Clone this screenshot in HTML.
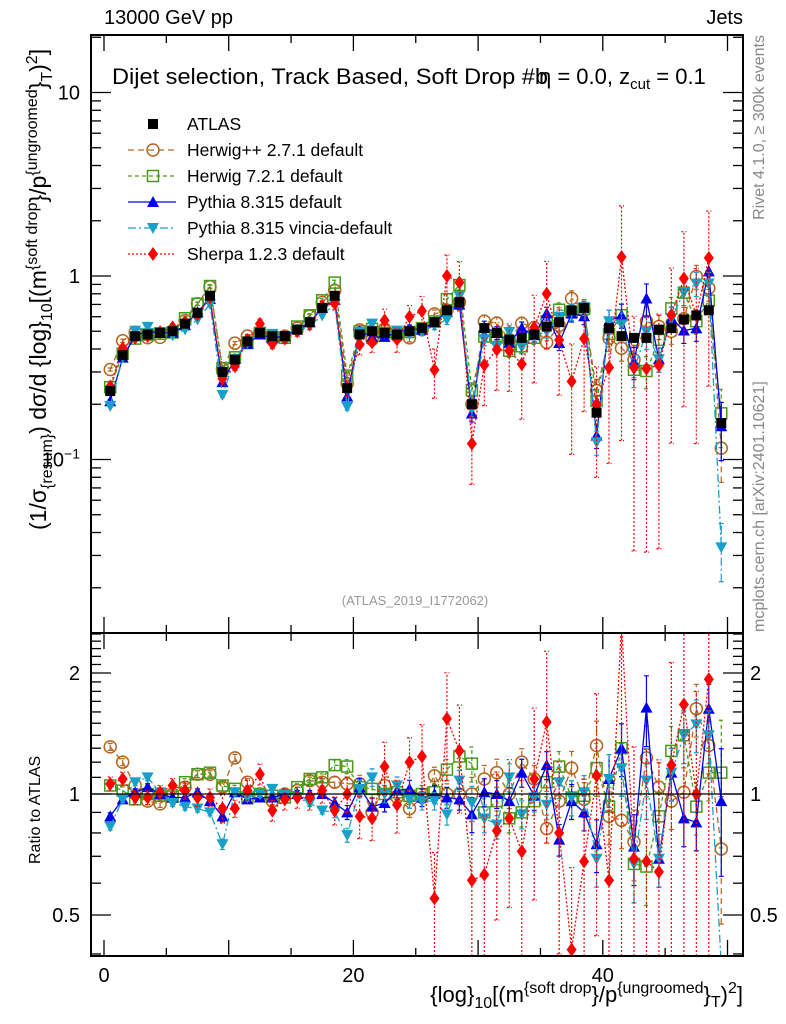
<!DOCTYPE html>
<html><head><meta charset="utf-8">
<style>
html,body{margin:0;padding:0;background:#fff;overflow:hidden;width:786px;height:1024px;}
svg{display:block;font-family:"Liberation Sans",sans-serif;}
</style></head>
<body>
<svg id="chart" width="786" height="1024" viewBox="0 0 786 1024" xmlns="http://www.w3.org/2000/svg">
<defs>
<clipPath id="clipMain"><rect x="91" y="35" width="652" height="598"/></clipPath>
<clipPath id="clipRatio"><rect x="91" y="633" width="652" height="323"/></clipPath>
</defs>
<rect x="0" y="0" width="786" height="1024" fill="#fff"/>
<g id="mainMarks" clip-path="url(#clipMain)"></g>
<g id="ratioMarks" clip-path="url(#clipRatio)"></g>
<g id="axes"></g>
<text x="104" y="24" font-size="20">13000 GeV pp</text>
<text x="743" y="24" font-size="20" text-anchor="end">Jets</text>
<text x="112" y="84" font-size="22" textLength="436" lengthAdjust="spacingAndGlyphs">Dijet selection, Track Based, Soft Drop #b</text>
<text x="539" y="84" font-size="22">η = 0.0, z<tspan font-size="15" dy="5">cut</tspan><tspan dy="-5"> = 0.1</tspan></text>
<text x="415" y="605" font-size="13" fill="#999" text-anchor="middle">(ATLAS_2019_I1772062)</text>
<text transform="translate(764,35) rotate(-90)" font-size="16" fill="#888" text-anchor="end">Rivet 4.1.0, ≥ 300k events</text>
<text transform="translate(764,632) rotate(-90)" font-size="16" fill="#888">mcplots.cern.ch [arXiv:2401.10621]</text>
<text transform="translate(46,530) rotate(-90)" font-size="23">(1/σ<tspan font-size="16" dy="6">{resum}</tspan><tspan dy="-6">) dσ/d {log}</tspan><tspan font-size="16" dy="6">10</tspan><tspan dy="-6">[(m</tspan><tspan font-size="16" dy="-9">{soft drop</tspan><tspan dy="9">}/p</tspan><tspan font-size="16" dy="-9">{ungroomed</tspan><tspan dy="9">}</tspan><tspan font-size="16" dy="6">T</tspan><tspan dy="-6">)</tspan><tspan font-size="16" dy="-9">2</tspan><tspan dy="9">]</tspan></text>
<text transform="translate(40,864) rotate(-90)" font-size="16">Ratio to ATLAS</text>
<text x="743" y="1002" font-size="22" text-anchor="end">{log}<tspan font-size="16" dy="6">10</tspan><tspan dy="-6">[(m</tspan><tspan font-size="16" dy="-9">{soft drop</tspan><tspan dy="9">}/p</tspan><tspan font-size="16" dy="-9">{ungroomed</tspan><tspan dy="9">}</tspan><tspan font-size="16" dy="5">T</tspan><tspan dy="-5">)</tspan><tspan font-size="16" dy="-9">2</tspan><tspan dy="9">]</tspan></text>
<g id="legend"></g>
</svg>
<script>
const NS="http://www.w3.org/2000/svg";
const binCenters=[];for(let i=0;i<50;i++)binCenters.push(i+0.5);
const atlasValues=[0.236,0.37,0.47,0.48,0.49,0.50,0.55,0.63,0.78,0.30,0.35,0.44,0.49,0.47,0.47,0.51,0.56,0.67,0.78,0.245,0.48,0.50,0.49,0.48,0.50,0.52,0.56,0.65,0.72,0.20,0.52,0.49,0.45,0.46,0.48,0.53,0.56,0.65,0.67,0.18,0.52,0.47,0.46,0.46,0.51,0.52,0.58,0.61,0.65,0.158];
const atlasErr=[0.02,0.02,0.02,0.02,0.02,0.02,0.02,0.02,0.02,0.02,0.02,0.02,0.02,0.02,0.02,0.02,0.02,0.02,0.02,0.02,0.03,0.03,0.03,0.03,0.03,0.03,0.03,0.03,0.03,0.03,0.04,0.04,0.04,0.04,0.04,0.04,0.04,0.04,0.04,0.04,0.05,0.05,0.05,0.05,0.05,0.05,0.05,0.05,0.05,0.05];
const herwigppRatio=[1.31,1.2,1.05,0.96,0.945,1.0,1.04,1.12,1.12,1.04,1.23,1.07,1.0,0.96,1.0,1.02,1.08,1.07,1.07,1.06,1.06,0.9,1.05,0.98,0.92,0.98,1.11,1.0,1.0,1.0,1.09,1.13,1.0,1.2,1.09,0.82,0.96,1.16,0.97,1.32,0.88,0.86,0.76,1.23,1.04,0.96,1.01,1.63,1.32,0.73];
const herwig7Ratio=[1.05,1.02,0.97,1.0,0.99,0.985,1.07,1.12,1.13,1.05,1.03,0.98,1.0,0.99,0.98,1.04,1.09,1.1,1.18,1.17,1.04,1.03,1.0,1.01,0.99,1.0,1.01,1.15,1.24,1.19,0.9,0.96,0.87,0.9,0.96,1.07,1.17,0.98,0.99,1.16,0.93,1.3,0.67,0.66,0.88,1.28,1.4,0.93,1.13,1.13];
const pythiaRatio=[0.88,0.97,1.01,1.04,1.0,0.98,0.98,1.01,0.96,0.88,1.01,0.97,0.98,0.98,1.0,1.0,1.0,1.0,0.95,0.9,1.04,0.93,0.95,1.02,1.03,0.98,1.0,0.98,0.97,0.89,1.01,1.0,0.96,1.13,0.99,1.18,0.77,0.96,0.9,0.75,1.09,1.3,0.74,1.64,0.69,1.13,0.87,0.85,1.63,0.96];
const vinciaRatio=[0.83,0.97,1.07,1.1,1.01,0.95,0.93,0.92,0.9,0.75,1.01,0.98,1.0,1.03,1.0,0.98,0.95,0.91,0.9,0.79,1.03,1.1,1.0,1.05,0.97,0.96,0.96,0.89,1.08,0.95,0.87,0.84,1.1,0.89,0.98,0.94,1.07,0.98,1.01,0.69,1.09,1.16,0.67,1.08,0.69,1.13,1.4,1.49,1.4,0.21];
const sherpaRatio=[1.06,1.09,0.98,0.98,1.01,1.05,1.02,0.98,0.98,0.92,0.92,1.02,1.12,0.91,0.97,0.98,0.98,1.02,0.91,1.0,0.88,0.87,1.17,0.94,1.2,1.24,0.55,1.54,1.28,0.61,0.63,0.81,0.87,0.72,1.09,1.51,0.8,0.41,0.68,1.11,0.61,2.7,0.69,0.68,0.64,1.18,1.67,1.0,1.93,null];
const mcRelErr=[0.02,0.02,0.02,0.02,0.02,0.02,0.02,0.02,0.02,0.03,0.02,0.02,0.02,0.02,0.02,0.02,0.02,0.02,0.03,0.04,0.05,0.05,0.05,0.05,0.05,0.05,0.05,0.06,0.06,0.1,0.08,0.08,0.08,0.08,0.08,0.08,0.09,0.1,0.1,0.15,0.15,0.15,0.2,0.2,0.15,0.15,0.15,0.15,0.15,0.35];
const sherpaRelErr=[0.04,0.04,0.04,0.04,0.04,0.04,0.05,0.05,0.05,0.08,0.05,0.06,0.06,0.06,0.06,0.06,0.07,0.07,0.08,0.1,0.12,0.12,0.15,0.15,0.15,0.2,0.3,0.3,0.3,0.4,0.4,0.4,0.4,0.5,0.5,0.5,0.5,0.6,0.6,0.6,0.7,0.9,0.9,0.9,0.9,0.8,0.8,0.8,0.8,0.8];
const xTicks=[0,20,40];
const mainTicks=[10,1,0.1];
const ratioTicks=[2,1,0.5];

const X0=104,XS=12.47;
function xs(v){return X0+XS*v;}
function ym(v){return 276-183.5*Math.log10(v);}
function yr(v){return 794-402*Math.log10(v);}
function mk(tag,attrs,parent){const e=document.createElementNS(NS,tag);for(const k in attrs)e.setAttribute(k,attrs[k]);parent.appendChild(e);return e;}
function clamp(y,a,b){return Math.max(a,Math.min(b,y));}

const series=[
 {name:'herwigpp',ratio:herwigppRatio,err:mcRelErr,color:'#b5651d',dash:'6,4',marker:'circle',label:'Herwig++ 2.7.1 default'},
 {name:'herwig7',ratio:herwig7Ratio,err:mcRelErr,color:'#4a9a1a',dash:'4,3',marker:'square',label:'Herwig 7.2.1 default'},
 {name:'pythia',ratio:pythiaRatio,err:mcRelErr,color:'#0000ee',dash:'',marker:'tri',label:'Pythia 8.315 default'},
 {name:'vincia',ratio:vinciaRatio,err:mcRelErr,color:'#1aa0c8',dash:'8,3,2,3',marker:'tridown',label:'Pythia 8.315 vincia-default'},
 {name:'sherpa',ratio:sherpaRatio,err:sherpaRelErr,color:'#ff0000',dash:'2,2',marker:'diamond',label:'Sherpa 1.2.3 default'}
];

function marker(g,type,x,y,color){
 let e;
 if(type==='circle')e=mk('circle',{cx:x,cy:y,r:6,fill:'none',stroke:color,'stroke-width':1.5},g);
 else if(type==='square')e=mk('rect',{x:x-5.5,y:y-5.5,width:11,height:11,fill:'none',stroke:color,'stroke-width':1.5},g);
 else if(type==='fsquare')e=mk('rect',{x:x-5,y:y-5,width:10,height:10,fill:color},g);
 else if(type==='tri')e=mk('polygon',{points:`${x},${y-6} ${x-6},${y+5} ${x+6},${y+5}`,fill:color},g);
 else if(type==='tridown')e=mk('polygon',{points:`${x},${y+6} ${x-6},${y-5} ${x+6},${y-5}`,fill:color},g);
 else e=mk('polygon',{points:`${x},${y-7} ${x-5},${y} ${x},${y+7} ${x+5},${y}`,fill:color},g);
 return e;
}

function drawSeries(parent,s,yfn,vals,errs,top,bot){
 const g=mk('g',{},parent);
 
 
 let d='';let pen=false;
 vals.forEach((v,i)=>{if(v==null||v<=0){pen=false;return;}d+=(pen?'L':'M')+xs(binCenters[i]).toFixed(1)+','+clamp(yfn(v),top-10,bot+10).toFixed(1);pen=true;});
 const line=mk('path',{d:d,fill:'none',stroke:s.color,'stroke-width':1.3,'stroke-dasharray':s.dash},g);
 
 
 vals.forEach((v,i)=>{
  if(v==null||v<=0)return;
  const x=xs(binCenters[i]);const lo=Math.max(v*(1-errs[i]),1e-4),hi=v*(1+errs[i]);
  const yl=clamp(yfn(lo),top,bot),yh=clamp(yfn(hi),top,bot);
  mk('path',{d:`M${x},${yl}L${x},${yh}M${x-2.5},${yl}L${x+2.5},${yl}M${x-2.5},${yh}L${x+2.5},${yh}`,stroke:s.color,'stroke-width':1.2,'stroke-dasharray':s.dash,fill:'none'},g);
  const yv=yfn(v);
  if(yv<top||yv>bot)return;
  const m=marker(g,s.marker,x,yv,s.color);
  
  
 });
}

const mainG=document.getElementById('mainMarks'),ratioG=document.getElementById('ratioMarks');
series.forEach(s=>{
 const mv=atlasValues.map((a,i)=>s.ratio[i]==null?null:a*s.ratio[i]);
 drawSeries(mainG,s,ym,mv,s.err,35,633);
 drawSeries(ratioG,s,yr,s.ratio,s.err,633,956);
});
{
 const g=mk('g',{},mainG);
 
 
 atlasValues.forEach((v,i)=>{
  const x=xs(binCenters[i]);
  mk('path',{d:`M${x},${ym(v*(1-atlasErr[i]))}L${x},${ym(v*(1+atlasErr[i]))}`,stroke:'#000','stroke-width':1.2},g);
  const m=marker(g,'fsquare',x,ym(v),'#000');
  
  
 });
}
const refLine=mk('line',{x1:91,x2:743,y1:yr(1),y2:yr(1),stroke:'#000','stroke-width':1.3},ratioG);



const ax=document.getElementById('axes');
mk('rect',{x:91,y:35,width:652,height:598,fill:'none',stroke:'#000','stroke-width':2},ax);
mk('rect',{x:91,y:633,width:652,height:323,fill:'none',stroke:'#000','stroke-width':2},ax);
for(let v=0;v<=50;v+=5){
 const x=xs(v);const L=(v%10===0)?16:8;
 mk('line',{x1:x,x2:x,y1:633,y2:633-L,stroke:'#000','stroke-width':1.3},ax);
 mk('line',{x1:x,x2:x,y1:35,y2:35+L,stroke:'#000','stroke-width':1.3},ax);
 mk('line',{x1:x,x2:x,y1:956,y2:956-L,stroke:'#000','stroke-width':1.3},ax);
 mk('line',{x1:x,x2:x,y1:633,y2:633+L,stroke:'#000','stroke-width':1.3},ax);
}
xTicks.forEach(v=>{const t=mk('text',{x:xs(v),y:982,'font-size':20,'text-anchor':'middle'},ax);t.textContent=v;
 
 });
for(let d=-2;d<=1;d++)for(let k=1;k<=9;k++){
 const v=k*Math.pow(10,d);const y=ym(v);if(y<35||y>633)continue;
 const L=k===1?20:10;
 mk('line',{x1:91,x2:91+L,y1:y,y2:y,stroke:'#000','stroke-width':1.3},ax);
 mk('line',{x1:743,x2:743-L,y1:y,y2:y,stroke:'#000','stroke-width':1.3},ax);
}
mainTicks.forEach(v=>{
 const t=mk('text',{x:80,y:ym(v)+7,'font-size':20,'text-anchor':'end'},ax);
 
 
 if(v===0.1){t.textContent='10';const s=mk('tspan',{'font-size':14,dy:-8},t);s.textContent='−1';}
 else t.textContent=v;
});
for(let k=4;k<=25;k++){
 const v=k/10;const y=yr(v);if(y<633||y>956)continue;
 const major=(v===0.5||v===1||v===2);const L=major?20:10;
 mk('line',{x1:91,x2:91+L,y1:y,y2:y,stroke:'#000','stroke-width':1.3},ax);
 mk('line',{x1:743,x2:743-L,y1:y,y2:y,stroke:'#000','stroke-width':1.3},ax);
}
ratioTicks.forEach(v=>{
 const t=mk('text',{x:80,y:yr(v)+7,'font-size':20,'text-anchor':'end'},ax);t.textContent=v;
 
 
 const t2=mk('text',{x:750,y:yr(v)+7,'font-size':20},ax);t2.textContent=v;
 
 
});

const lg=document.getElementById('legend');
const legRows=[{name:'atlas',color:'#000',dash:'',marker:'fsquare',label:'ATLAS',noline:true}].concat(series);
legRows.forEach((s,i)=>{
 const y=124+26*i;
 const g=mk('g',{},lg);
 
 
 if(!s.noline)mk('line',{x1:128,x2:176,y1:y,y2:y,stroke:s.color,'stroke-width':1.3,'stroke-dasharray':s.dash},g);
 marker(g,s.marker,153,y,s.color);
 const t=mk('text',{x:187,y:y+6,'font-size':17.5},g);t.textContent=s.label;
});
</script>
</body></html>
